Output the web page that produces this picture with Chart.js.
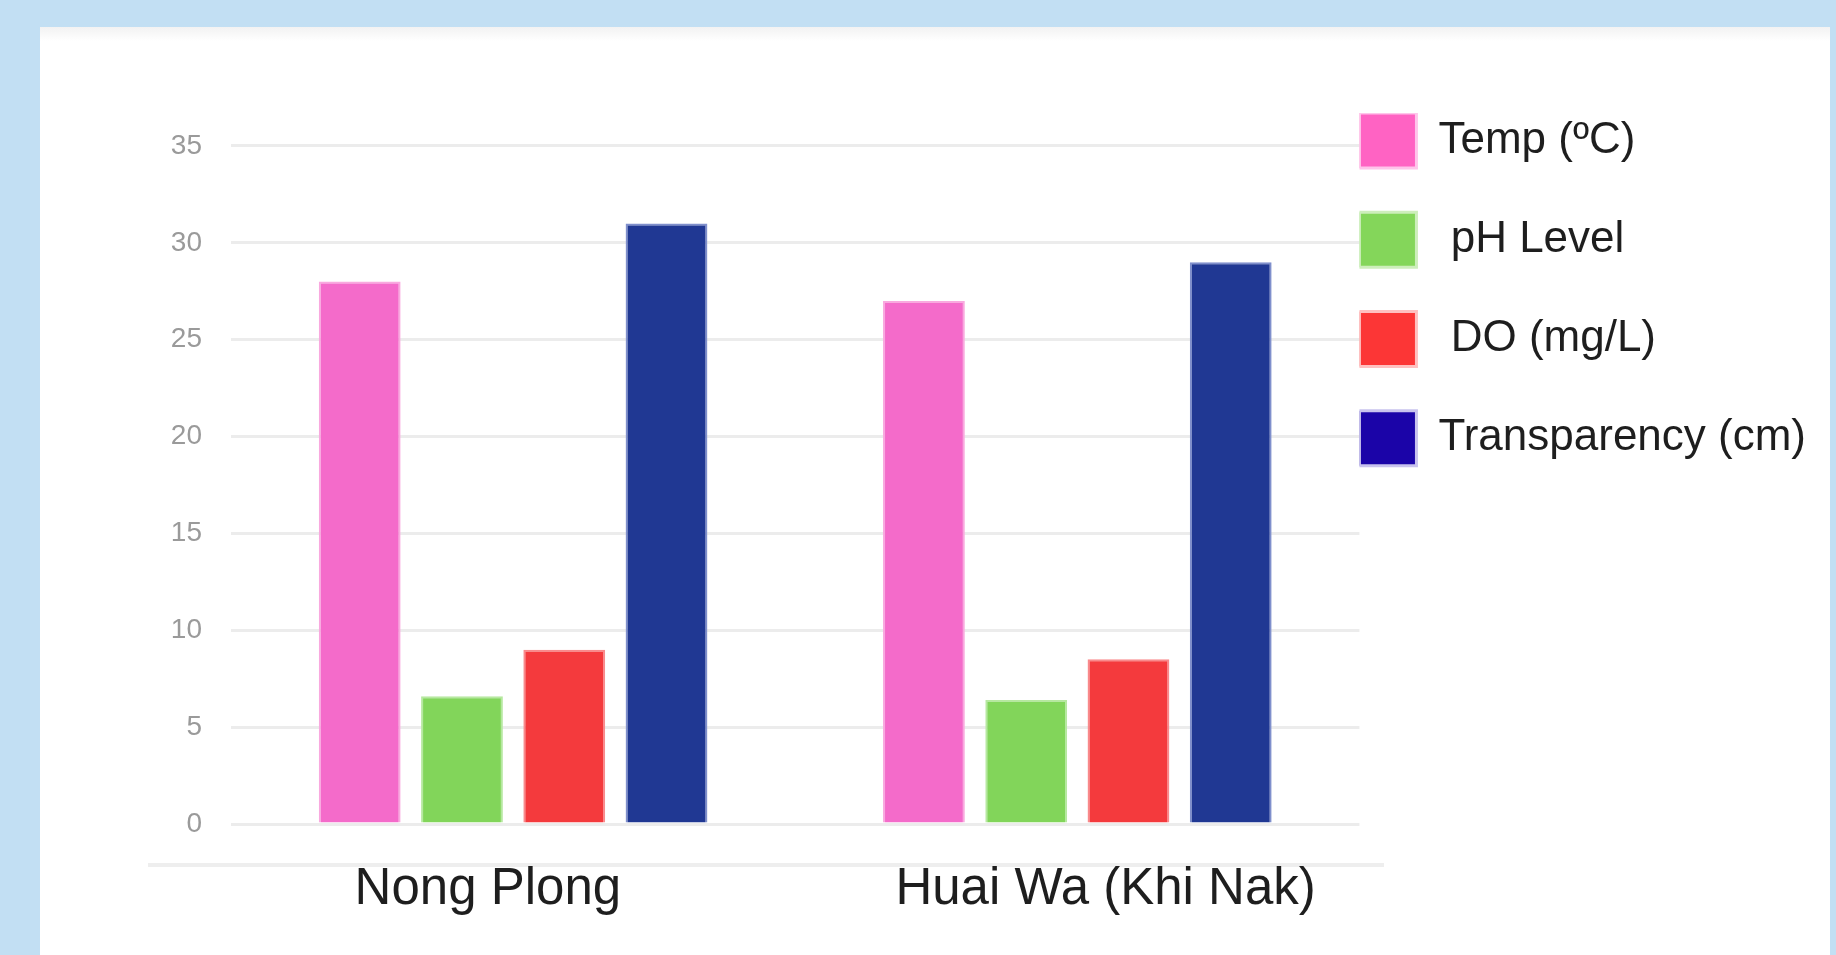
<!DOCTYPE html>
<html>
<head>
<meta charset="utf-8">
<title>Water quality</title>
<script src="https://cdn.jsdelivr.net/npm/chart.js@4/dist/chart.umd.min.js"></script>
<style>
  html, body { margin: 0; padding: 0; }
  body { width: 1836px; height: 955px; background: #c2dff3; position: relative; overflow: hidden; }
  #panel {
    position: absolute; left: 40px; top: 27px; width: 1790px; height: 928px;
    background: linear-gradient(#f2f2f2, #ffffff 14px);
  }
</style>
</head>
<body>
<div id="panel"><canvas id="chart"></canvas></div>
<script>
'use strict';

// data
const sites = ['Nong Plong', 'Huai Wa (Khi Nak)'];
const seriesNames = ['Temp (ºC)', ' pH Level', ' DO (mg/L)', 'Transparency (cm)'];
const tempC = [28, 27];
const phLevel = [6.6, 6.4];
const doMgL = [9, 8.5];
const transparencyCm = [31, 29];

// y axis: ticks 0..35 by 5, plot area runs a bit higher than the last tick
const yMin = 0;
const yLastTick = 35;
const yStep = 5;
const yAreaTop = 36.7;

const barFill = ['#f46bca', '#82d55a', '#f43a3d', '#203893'];
const barEdge = ['#f9a9df', '#b6e8a0', '#f98a8c', '#7f8fcc'];
const legendFill = ['#ff63c3', '#84d65a', '#fc3636', '#1b04a8'];
const legendEdge = ['#ffc4ea', '#cdeebb', '#ffc0c0', '#c9c3ee'];

Chart.defaults.font.family = "'Liberation Sans', Arial, sans-serif";

// the site names and the base line below the plot are wider than the plot itself
const labelAxisSpan = {
  id: 'labelAxisSpan',
  afterLayout(chart) {
    const ax = chart.scales.x2;
    const area = chart.chartArea;
    ax.left = area.left - 52;
    ax.right = area.right + 55;
    ax.configure();
    ax.left = area.left - 81;
    ax.right = area.right + 24;
  }
};

const seriesValues = [tempC, phLevel, doMgL, transparencyCm];
const datasets = seriesNames.map((name, i) => ({
  label: name,
  data: seriesValues[i],
  backgroundColor: barFill[i],
  borderColor: barEdge[i],
  borderWidth: 2,
  categoryPercentage: 0.725,
  barPercentage: 0.8
}));

new Chart(document.getElementById('chart'), {
  type: 'bar',
  data: { labels: sites, datasets: datasets },
  plugins: [labelAxisSpan],
  options: {
    responsive: true,
    maintainAspectRatio: false,
    animation: false,
    layout: { padding: { top: 86, right: 14, bottom: 0, left: 0 } },
    plugins: {
      tooltip: { enabled: false },
      legend: {
        position: 'right',
        align: 'start',
        maxWidth: 1000,
        labels: {
          boxWidth: 57,
          boxHeight: 55,
          padding: 0,
          color: '#1e1e1e',
          font: { size: 44, lineHeight: 2.255 },
          generateLabels: (chart) => {
            const items = Chart.defaults.plugins.legend.labels.generateLabels(chart);
            items.forEach((item, i) => {
              item.text = [seriesNames[i]];
              item.fillStyle = legendFill[i];
              item.strokeStyle = legendEdge[i];
              item.lineWidth = 3;
            });
            return items;
          }
        }
      }
    },
    scales: {
      x: {
        type: 'category',
        offset: true,
        grid: { display: false },
        border: { display: false },
        ticks: { display: false },
        afterFit: (scale) => { scale.height = 41; }
      },
      x2: {
        type: 'category',
        position: 'bottom',
        offset: true,
        grid: { display: false, drawTicks: false },
        border: { display: true, color: '#eeeeee', width: 4 },
        ticks: { color: '#1e1e1e', padding: 5, font: { size: 51, lineHeight: 0.8 } },
        afterFit: (scale) => { scale.height = 90; }
      },
      y: {
        min: yMin,
        max: yAreaTop,
        grid: { color: '#ececec', lineWidth: 3, drawTicks: false },
        border: { display: false },
        ticks: { stepSize: yStep, color: '#9a9a9a', padding: 29, font: { size: 28 } },
        afterBuildTicks: (scale) => {
          scale.ticks = scale.ticks.filter(t => t.value <= yLastTick);
        },
        afterFit: (scale) => { scale.width = 191; }
      }
    }
  }
});
</script>
</body>
</html>
